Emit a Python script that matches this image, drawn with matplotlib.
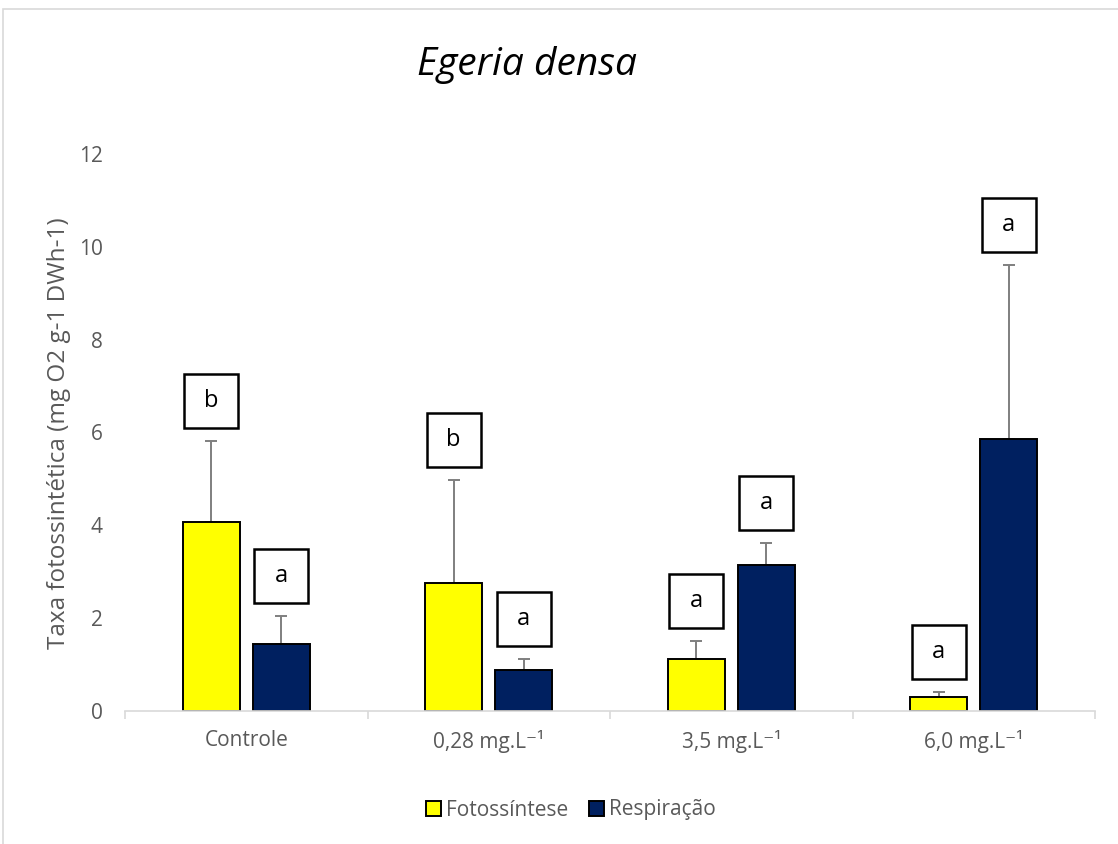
import numpy as np
import matplotlib
matplotlib.use("Agg")
import matplotlib.pyplot as plt
from matplotlib.patches import Rectangle, Patch

plt.rcParams['font.family'] = ['Open Sans', 'DejaVu Sans']

# data
categories = ['Controle', '0,28 mg.L⁻¹', '3,5 mg.L⁻¹', '6,0 mg.L⁻¹']
foto = [4.07, 2.76, 1.12, 0.30]
foto_err = [1.75, 2.22, 0.39, 0.11]
resp = [1.44, 0.88, 3.15, 5.86]
resp_err = [0.61, 0.24, 0.47, 3.75]
foto_letters = ['b', 'b', 'a', 'a']
resp_letters = ['a', 'a', 'a', 'a']

gray = '#595959'
fig = plt.figure(figsize=(11.18, 8.44), dpi=100)
# chart border like the Excel chart area
fig.patches.append(Rectangle((3/1118, -0.1), 1.2, 1 - 9/844 + 0.1, transform=fig.transFigure,
                             fill=False, edgecolor='#d9d9d9', lw=1.2))
ax = fig.add_axes([125/1118, 1 - 711/844, 970/1118, (711 - 154)/844])

x = np.arange(len(categories))
w = 0.235
off = 0.145
ax.bar(x - off, foto, w, color='#ffff00', edgecolor='black', lw=1.4, zorder=2, label='Fotossíntese')
ax.bar(x + off, resp, w, color='#002060', edgecolor='black', lw=1.4, zorder=2, label='Respiração')
ax.errorbar(x - off, foto, yerr=[np.zeros(4), foto_err], fmt='none', ecolor='#7f7f7f',
            elinewidth=1.4, capsize=4.5, capthick=1.4, zorder=1)
ax.errorbar(x + off, resp, yerr=[np.zeros(4), resp_err], fmt='none', ecolor='#7f7f7f',
            elinewidth=1.4, capsize=4.5, capthick=1.4, zorder=1)

# significance letters in boxes above the error bars
gap = 0.86
for xs, vals, errs, letters in [(x - off, foto, foto_err, foto_letters),
                                (x + off, resp, resp_err, resp_letters)]:
    for xi, v, e, t in zip(xs, vals, errs, letters):
        yy = v + e + gap
        ax.plot(xi, yy, marker='s', ms=39, mfc='white', mec='black', mew=1.8, zorder=3)
        ax.text(xi, yy, t, ha='center', va='center', fontsize=17, zorder=4)

ax.set_xlim(-0.5, len(categories) - 0.5)
ax.set_ylim(0, 12)
ax.set_yticks(np.arange(0, 13, 2))
ax.set_xticks(x)
ax.set_xticklabels(categories)
ax.set_xticks(np.arange(-0.5, len(categories)), minor=True)
ax.tick_params(axis='x', which='major', length=0, pad=14, labelsize=15, labelcolor=gray)
ax.tick_params(axis='x', which='minor', length=6, color='#d9d9d9', width=1.2)
ax.tick_params(axis='y', length=0, pad=16, labelsize=15, labelcolor=gray)
for s in ['top', 'right', 'left']:
    ax.spines[s].set_visible(False)
ax.spines['bottom'].set_color('#d9d9d9')
ax.spines['bottom'].set_linewidth(1.2)

ax.set_ylabel('Taxa fotossintética (mg O2 g-1 DWh-1)', fontsize=17.5, color=gray)
ax.yaxis.set_label_coords((71 - 125) / 970, (711 - 433) / (711 - 154))
fig.text(527/1118, 1 - 65/844, 'Egeria densa', ha='center', va='center', fontsize=28, style='italic')

handles = [Patch(facecolor='#ffff00', edgecolor='black', lw=1.4),
           Patch(facecolor='#002060', edgecolor='black', lw=1.4)]
leg = fig.legend(handles, ['Fotossíntese', 'Respiração'], loc='center', bbox_to_anchor=(571/1118, 1 - 810/844),
                 ncol=2, frameon=False, handlelength=0.7, handleheight=0.7, handletextpad=0.25,
                 columnspacing=1.0, fontsize=15)
for t in leg.get_texts():
    t.set_color(gray)

fig.savefig('out.png', dpi=100)
